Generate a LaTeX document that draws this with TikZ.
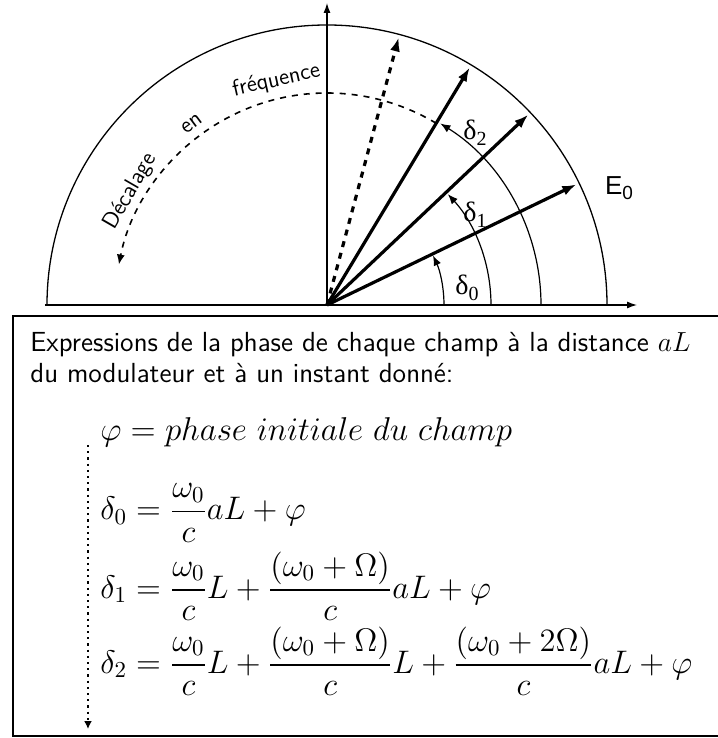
\RequirePackage{fix-cm}
\documentclass[tikz,border=0pt]{standalone}
\usepackage{fontspec}
\usepackage{amsmath}
\newfontfamily\grkfont{Liberation Serif}
\newfontfamily\labelfont{Liberation Sans}
\usetikzlibrary{arrows.meta,positioning}

\begin{document}
\begin{tikzpicture}[
  x=0.5pt,
  y=0.5pt,
  >=Latex,
  axis/.style={line width=0.6pt,-{Latex[length=5pt,width=3.5pt]}},
  field/.style={line width=1.6pt,-{Latex[length=7pt,width=5pt]}},
  phase/.style={line width=0.6pt,-{Latex[length=5pt,width=4pt]}},
  freqshift/.style={dashed,line width=0.8pt,-{Latex[length=5pt,width=4pt]}},
  arclabel/.style={font=\sffamily\fontsize{11.5}{13}\selectfont,inner sep=0pt},
  anglabel/.style={font=\grkfont\fontsize{14}{16}\selectfont,inner sep=0pt},
  eqn/.style={anchor=west,inner sep=0pt,font=\fontsize{16.3}{19}\selectfont}
]
  \useasboundingbox (-327,-433) rectangle (390,305);

  % axes and circle of radius E0
  \coordinate (O) at (0,0);
  \coordinate (xstart) at (-282,0);
  \coordinate (xend) at (310,0);
  \coordinate (yend) at (0,302);
  \draw[axis] (xstart) -- (xend);
  \draw[axis] (O) -- (yend);
  \draw[line width=0.65pt] (280,0) arc[start angle=0,end angle=180,radius=280];

  % fields
  \coordinate (tip0) at (25.8:277);
  \coordinate (tip1) at (43.4:277);
  \coordinate (tip2) at (59:277);
  \coordinate (tip3) at (75:277);
  \draw[field] (O) -- (tip0);
  \draw[field] (O) -- (tip1);
  \draw[field] (O) -- (tip2);
  \draw[field,dashed] (O) -- (tip3);

  % phases
  \draw[phase] (117,0) arc[start angle=0,end angle=25,radius=117];
  \draw[phase] (164,0) arc[start angle=0,end angle=42.5,radius=164];
  \draw[phase] (214,0) arc[start angle=0,end angle=58,radius=214];
  \node[anglabel] (d0) at (140,17) {δ\raisebox{-0.45ex}{\fontsize{10}{11}\selectfont 0}};
  \node[anglabel] (d1) at (148,90) {δ\raisebox{-0.45ex}{\fontsize{10}{11}\selectfont 1}};
  \node[anglabel] (d2) at (148,172) {δ\raisebox{-0.45ex}{\fontsize{10}{11}\selectfont 2}};
  \node[font=\labelfont\fontsize{13}{15}\selectfont,inner sep=0pt] (E0) at (292,117)
    {E\raisebox{-0.4ex}{\fontsize{9.5}{10}\selectfont 0}};

  % frequency shift
  \draw[freqshift] (59:212) arc[start angle=59,end angle=169,radius=212];
  \node[arclabel,rotate=60] (shiftA) at (150:227) {Décalage};
  \node[arclabel,rotate=36.6] (shiftB) at (126.6:226) {en};
  \node[arclabel,rotate=12.7] (shiftC) at (102.7:230) {fréquence};

  % expressions
  \draw[line width=0.7pt] (-314,-431) rectangle (400,-11);
  \node[anchor=west,align=left,inner sep=0pt,
    font=\sffamily\fontsize{13.8}{15.5}\selectfont] (intro) at (-297,-53)
    {Expressions de la phase de chaque champ à la distance $aL$\\
     du modulateur et à un instant donné:};
  \node[eqn,font=\fontsize{16.5}{19}\selectfont] (phi) at (-227,-127)
    {$\varphi = phase\ initiale\ du\ champ$};
  \node[eqn] (eq0) at (-227,-208) {$\displaystyle \delta_0 = \frac{\omega_0}{c}aL + \varphi$};
  \node[eqn] (eq1) at (-227,-281)
    {$\displaystyle \delta_1 = \frac{\omega_0}{c}L + \frac{(\omega_0+\Omega)}{c}aL + \varphi$};
  \node[eqn] (eq2) at (-227,-356)
    {$\displaystyle \delta_2 = \frac{\omega_0}{c}L + \frac{(\omega_0+\Omega)}{c}L
      + \frac{(\omega_0+2\Omega)}{c}aL + \varphi$};
  \coordinate (ordtop) at (-239,-140);
  \coordinate (ordbot) at (-239,-424);
  \draw[dotted,line width=1.1pt,-{Latex[length=4pt,width=4pt]}] (ordtop) -- (ordbot);
\end{tikzpicture}
\end{document}
